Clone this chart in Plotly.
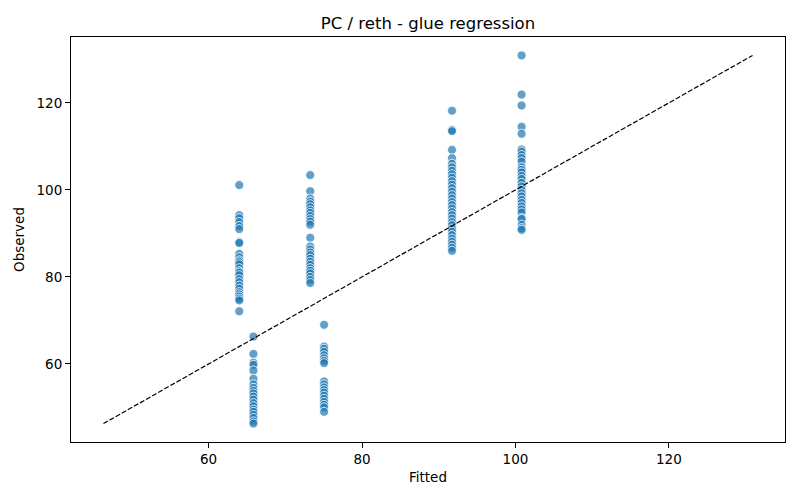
import plotly.graph_objects as go

# Fitted level for each group of observations
fitted_levels = [64.0, 65.85, 73.25, 75.06, 91.73, 100.8]

obs_a = [101.1, 94.2, 93.5, 92.6, 91.7, 91.0, 88.0, 87.8, 85.3, 84.5, 83.8, 83.4, 82.9,
         82.0, 81.3, 81.0, 80.4, 79.5, 78.8, 78.0, 77.3, 76.5, 76.0, 75.5, 75.0, 74.6, 72.1]
obs_b = [66.3, 62.3, 60.3, 59.8, 58.5, 56.6, 55.3, 54.5, 53.8, 53.2, 52.5, 51.8, 51.0,
         50.3, 49.5, 49.0, 48.3, 47.6, 46.8, 46.3]
obs_c = [103.4, 99.7, 98.0, 97.3, 96.7, 96.0, 95.3, 94.7, 94.0, 93.3, 92.7, 92.0, 89.0,
         87.0, 86.3, 85.6, 85.0, 84.2, 83.5, 82.8, 82.0, 81.4, 80.8, 80.0, 79.3, 78.6]
obs_d = [69.0, 64.0, 63.5, 62.8, 62.0, 61.3, 60.7, 60.2, 56.0, 55.3, 54.6, 54.0, 53.4,
         52.7, 52.0, 51.3, 50.6, 50.0, 49.0]
obs_e = [118.2, 113.8, 113.5, 109.2, 107.3, 106.0, 105.2, 104.4, 103.6, 102.8, 102.0,
         101.2, 100.4, 99.6, 98.8, 98.0, 97.2, 96.5, 95.7, 94.9, 94.2, 93.4, 92.6, 91.9,
         91.1, 90.4, 89.6, 88.8, 88.1, 87.4, 86.7, 86.0]
obs_f = [130.9, 121.9, 119.4, 114.5, 112.9, 109.3, 108.8, 108.0, 107.3, 106.5, 105.2,
         104.6, 104.0, 103.2, 102.5, 101.6, 100.8, 100.0, 99.2, 98.5, 97.7, 97.0, 96.2,
         95.5, 94.8, 93.5, 93.3, 92.0, 91.2, 90.8]

groups = [obs_a, obs_b, obs_c, obs_d, obs_e, obs_f]
fitted = []
observed = []
for lvl, obs in zip(fitted_levels, groups):
    fitted += [lvl] * len(obs)
    observed += obs

lo = min(min(fitted), min(observed))
hi = max(max(fitted), max(observed))
pad = (hi - lo) * 0.05
rng = [lo - pad, hi + pad]

fig = go.Figure()
fig.add_trace(go.Scatter(
    x=fitted, y=observed, mode="markers",
    marker=dict(size=9, color="rgba(31,119,180,0.7)",
                line=dict(color="white", width=0.8)),
    showlegend=False, hoverinfo="x+y"))
fig.add_trace(go.Scatter(
    x=[lo, hi], y=[lo, hi], mode="lines",
    line=dict(color="black", width=1.2, dash="5px,2px"),
    showlegend=False, hoverinfo="skip"))

axis_common = dict(showline=True, linecolor="black", linewidth=1, mirror=True,
                   ticks="outside", ticklen=5, tickwidth=1, tickcolor="black",
                   showgrid=False, zeroline=False, automargin=False,
                   tickfont=dict(family="DejaVu Sans", size=13.5, color="black"))

W, H = 792, 492  # page body has an 8px margin
fig.update_layout(
    width=W, height=H,
    paper_bgcolor="white", plot_bgcolor="white",
    margin=dict(l=63, r=15, t=29, b=58, autoexpand=False),
    font=dict(family="DejaVu Sans", size=13.5, color="black"),
    title=dict(text="PC / reth - glue regression", x=0.5, xanchor="center",
               xref="paper", y=1 - 15 / H, yanchor="middle", automargin=False,
               font=dict(family="DejaVu Sans", size=16.5, color="black")),
    xaxis=dict(range=rng, tickvals=[60, 80, 100, 120],
               title=dict(text="Fitted", standoff=6,
                          font=dict(family="DejaVu Sans", size=13.5)),
               **axis_common),
    yaxis=dict(range=rng, tickvals=[60, 80, 100, 120],
               title=dict(text="Observed", standoff=8,
                          font=dict(family="DejaVu Sans", size=13.5)),
               **axis_common),
)

fig.write_html("out.html")
